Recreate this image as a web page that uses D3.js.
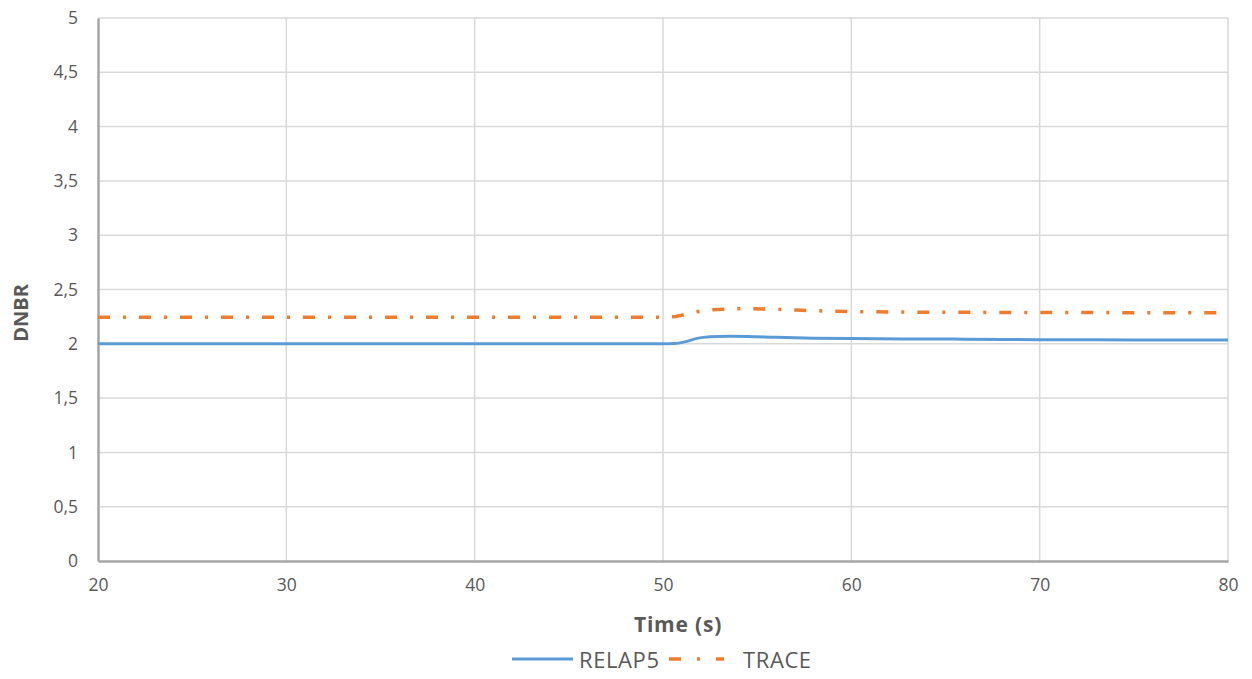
<!DOCTYPE html>
<html>
<head>
<meta charset="utf-8">
<script src="https://cdn.jsdelivr.net/npm/d3@7"></script>
<style>
body{margin:0;background:#fff;}
svg text{font-family:"Open Sans",sans-serif;}
</style>
</head>
<body>
<svg id="chart" width="1252" height="679"></svg>
<script>
const time   = [20, 30, 40, 50, 50.6, 51.2, 51.8, 52.5, 53.5, 54.5, 56, 58, 60, 63, 66, 70, 75, 80];
const relap5 = [2.0, 2.0, 2.0, 2.0, 2.002, 2.02, 2.05, 2.065, 2.07, 2.068, 2.06, 2.052, 2.048, 2.045, 2.043, 2.038, 2.036, 2.036];
const trace  = [2.245, 2.245, 2.245, 2.245, 2.25, 2.27, 2.295, 2.312, 2.32, 2.323, 2.318, 2.305, 2.297, 2.292, 2.29, 2.288, 2.287, 2.287];
const xTicks = [20, 30, 40, 50, 60, 70, 80];
const yTicks = [0, 0.5, 1, 1.5, 2, 2.5, 3, 3.5, 4, 4.5, 5];
const seriesNames = ["RELAP5", "TRACE"];

const svg = d3.select("#chart");
const m = {left: 98, right: 1228, top: 18, bottom: 561};
const x = d3.scaleLinear().domain([20, 80]).range([m.left, m.right]);
const y = d3.scaleLinear().domain([0, 5]).range([m.bottom, m.top]);
const fmt = d => String(d).replace(".", ",");

// gridlines
svg.append("g").selectAll("line").data(yTicks.filter(d => d > 0)).join("line")
  .attr("x1", m.left).attr("x2", m.right)
  .attr("y1", d => y(d)).attr("y2", d => y(d))
  .attr("stroke", "#d9d9d9").attr("stroke-width", 1.5);
svg.append("g").selectAll("line").data(xTicks.filter(d => d > 20)).join("line")
  .attr("y1", m.top).attr("y2", m.bottom)
  .attr("x1", d => x(d)).attr("x2", d => x(d))
  .attr("stroke", "#d9d9d9").attr("stroke-width", 1.5);

// axes
const xAxis = svg.append("g").attr("transform", `translate(0,${m.bottom})`)
  .call(d3.axisBottom(x).tickValues(xTicks).tickFormat(d => d).tickSize(0).tickPadding(18));
const yAxis = svg.append("g").attr("transform", `translate(${m.left},0)`)
  .call(d3.axisLeft(y).tickValues(yTicks).tickFormat(fmt).tickSize(0).tickPadding(20));
[xAxis, yAxis].forEach(a => {
  a.select(".domain").attr("stroke", "#a6a6a6").attr("stroke-width", 2.5);
  a.selectAll("text").attr("font-size", 17.5).attr("fill", "#595959").attr("font-family", "Open Sans, sans-serif");
});

// lines
const lineGen = vals => d3.line().x((d, i) => x(time[i])).y(d => y(d)).curve(d3.curveMonotoneX)(vals);
svg.append("path").attr("d", lineGen(relap5)).attr("fill", "none")
  .attr("stroke", "#5b9bd5").attr("stroke-width", 3);
svg.append("path").attr("d", lineGen(trace)).attr("fill", "none")
  .attr("stroke", "#ed7d31").attr("stroke-width", 3.5).attr("stroke-dasharray", "12,13,3,13");

// axis titles
svg.append("text").attr("x", 678).attr("y", 632).attr("text-anchor", "middle")
  .attr("font-size", 21).attr("font-weight", "bold").attr("fill", "#595959").attr("letter-spacing", 0.8).text("Time (s)");
svg.append("text").attr("transform", "translate(28,313) rotate(-90)").attr("text-anchor", "middle")
  .attr("font-size", 20).attr("font-weight", "bold").attr("fill", "#595959").text("DNBR");

// legend
const lg = svg.append("g");
lg.append("line").attr("x1", 512).attr("x2", 573).attr("y1", 659).attr("y2", 659)
  .attr("stroke", "#5b9bd5").attr("stroke-width", 3);
lg.append("text").attr("x", 579).attr("y", 668).attr("font-size", 22).attr("letter-spacing", 0.6).attr("fill", "#595959").text(seriesNames[0]);
lg.append("line").attr("x1", 669).attr("x2", 724).attr("y1", 659).attr("y2", 659)
  .attr("stroke", "#ed7d31").attr("stroke-width", 3.5).attr("stroke-dasharray", "12,16,3,16");
lg.append("text").attr("x", 743).attr("y", 668).attr("font-size", 22).attr("letter-spacing", 0.6).attr("fill", "#595959").text(seriesNames[1]);
</script>
</body>
</html>
